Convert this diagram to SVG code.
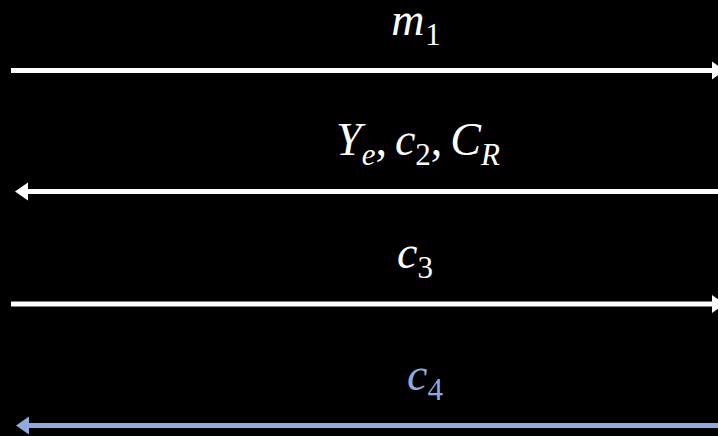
<svg xmlns="http://www.w3.org/2000/svg" width="718" height="436" viewBox="0 0 718 436">
<defs>
<style>
.lbl{font-family:"Liberation Serif","DejaVu Serif",serif;font-size:46px;fill:#ffffff;text-anchor:middle}
.lbl .i{font-style:italic}
.lbl .s{font-size:31px}
.blue{fill:#8faadc}
.ln{stroke-width:5;fill:none}
</style>
<marker id="hw" markerUnits="userSpaceOnUse" markerWidth="14" markerHeight="20" refX="2" refY="10" orient="auto">
<path d="M0,1 L13,10 L0,19 Z" fill="#ffffff"/>
</marker>
<marker id="hb" markerUnits="userSpaceOnUse" markerWidth="14" markerHeight="20" refX="2" refY="10" orient="auto">
<path d="M0,1 L13,10 L0,19 Z" fill="#8faadc"/>
</marker>
</defs>
<rect width="718" height="436" fill="#000000"/>
<g id="connectors">
<line class="ln" x1="11" y1="70.5" x2="714" y2="70.5" stroke="#ffffff" marker-end="url(#hw)"/>
<line class="ln" x1="718" y1="191.5" x2="26" y2="191.5" stroke="#ffffff" marker-end="url(#hw)"/>
<line class="ln" x1="11" y1="304" x2="714" y2="304" stroke="#ffffff" marker-end="url(#hw)"/>
<line class="ln" x1="718" y1="425.5" x2="27" y2="425.5" stroke="#8faadc" marker-end="url(#hb)"/>
</g>
<g id="label-m1">
<text class="lbl" x="416" y="35"><tspan class="i">m</tspan><tspan class="s" dx="1" dy="10">1</tspan></text>
</g>
<g id="label-ye">
<text class="lbl" x="418" y="155"><tspan class="i">Y</tspan><tspan class="s i" dy="10">e</tspan><tspan dy="-10">,</tspan><tspan class="i" dx="8">c</tspan><tspan class="s" dy="10">2</tspan><tspan dy="-10">,</tspan><tspan class="i" dx="8">C</tspan><tspan class="s i" dy="10">R</tspan></text>
</g>
<g id="label-c3">
<text class="lbl" x="415" y="268"><tspan class="i">c</tspan><tspan class="s" dy="10">3</tspan></text>
</g>
<g id="label-c4">
<text class="lbl blue" x="425" y="390"><tspan class="i">c</tspan><tspan class="s" dy="10">4</tspan></text>
</g>
</svg>
